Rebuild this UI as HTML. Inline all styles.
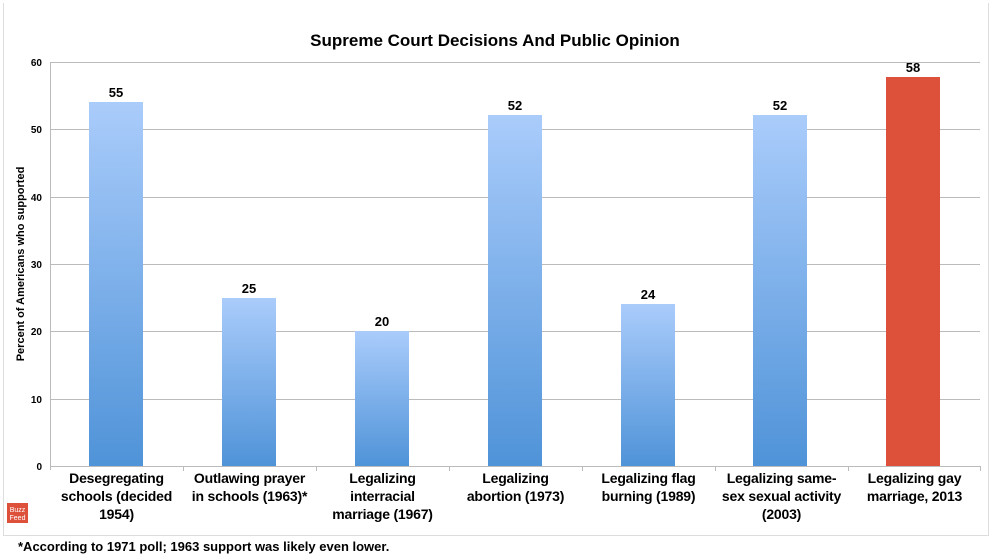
<!DOCTYPE html><html><head><style>
body{margin:0;width:990px;height:555px;background:#fff;font-family:"Liberation Sans",sans-serif;position:relative;overflow:hidden}
.f{position:absolute;left:3px;top:3px;width:984px;height:532px;border:1px solid #ddd;border-top:none}
.t{position:absolute;top:31px;left:0;width:990px;text-align:center;font-weight:bold;font-size:17px}
.lb{position:absolute;width:133px;text-align:center;font-weight:bold;font-size:14px;line-height:18px;top:469px;white-space:nowrap;letter-spacing:-0.2px}
.v{position:absolute;width:54px;text-align:center;font-weight:bold;font-size:13px}
.ft{position:absolute;left:18px;top:539px;font-weight:bold;font-size:13px}
</style></head><body>
<div class="f"></div>
<div class="t">Supreme Court Decisions And Public Opinion</div>
<svg width="990" height="555" style="position:absolute;left:0;top:0">
<defs><linearGradient id="g" x1="0" y1="0" x2="0" y2="1"><stop offset="0" stop-color="#aaccfb"/><stop offset="1" stop-color="#4f93d8"/></linearGradient></defs>
<g stroke="#bbb" stroke-width="1">
<line x1="50" x2="980" y1="62.5" y2="62.5"/><line x1="50" x2="980" y1="129.5" y2="129.5"/><line x1="50" x2="980" y1="197.5" y2="197.5"/><line x1="50" x2="980" y1="264.5" y2="264.5"/><line x1="50" x2="980" y1="331.5" y2="331.5"/><line x1="50" x2="980" y1="399.5" y2="399.5"/><line x1="50" x2="980" y1="466.5" y2="466.5"/>
<line x1="50.5" x2="50.5" y1="62" y2="470"/>
<line x1="183.5" x2="183.5" y1="466" y2="471"/><line x1="316.5" x2="316.5" y1="466" y2="471"/><line x1="449.5" x2="449.5" y1="466" y2="471"/><line x1="582.5" x2="582.5" y1="466" y2="471"/><line x1="715.5" x2="715.5" y1="466" y2="471"/><line x1="848.5" x2="848.5" y1="466" y2="471"/><line x1="980.5" x2="980.5" y1="466" y2="471"/>
</g>
<g fill="url(#g)">
<rect x="89" y="102" width="54" height="364"/><rect x="222" y="298" width="54" height="168"/><rect x="355" y="331" width="54" height="135"/><rect x="488" y="115" width="54" height="351"/><rect x="621" y="304" width="54" height="162"/><rect x="753" y="115" width="54" height="351"/></g>
<rect x="886" y="77" width="54" height="389" fill="#dd513b"/>
<g font-family="Liberation Sans" font-weight="bold" font-size="10" text-anchor="end">
<text x="42" y="66">60</text><text x="42" y="133">50</text><text x="42" y="201">40</text><text x="42" y="268">30</text><text x="42" y="335">20</text><text x="42" y="403">10</text><text x="42" y="470">0</text></g>
<text transform="translate(24,264) rotate(-90)" text-anchor="middle" font-family="Liberation Sans" font-weight="bold" font-size="11">Percent of Americans who supported</text>
<rect x="7" y="503" width="21" height="20" fill="#dd513b"/>
<text x="17.5" y="512" fill="#fff" font-size="7" text-anchor="middle" font-family="Liberation Sans">Buzz</text>
<text x="17.5" y="520" fill="#fff" font-size="7" text-anchor="middle" font-family="Liberation Sans">Feed</text>
</svg>
<div class="v" style="left:89px;top:85px">55</div><div class="v" style="left:222px;top:281px">25</div><div class="v" style="left:355px;top:314px">20</div><div class="v" style="left:488px;top:98px">52</div><div class="v" style="left:621px;top:287px">24</div><div class="v" style="left:753px;top:98px">52</div><div class="v" style="left:886px;top:60px">58</div>
<div class="lb" style="left:50px">Desegregating<br>schools (decided<br>1954)</div>
<div class="lb" style="left:183px">Outlawing prayer<br>in schools (1963)*</div>
<div class="lb" style="left:316px">Legalizing<br>interracial<br>marriage (1967)</div>
<div class="lb" style="left:449px">Legalizing<br>abortion (1973)</div>
<div class="lb" style="left:582px">Legalizing flag<br>burning (1989)</div>
<div class="lb" style="left:715px">Legalizing same-<br>sex sexual activity<br>(2003)</div>
<div class="lb" style="left:848px">Legalizing gay<br>marriage, 2013</div>
<div class="ft">*According to 1971 poll; 1963 support was likely even lower.</div>
</body></html>
